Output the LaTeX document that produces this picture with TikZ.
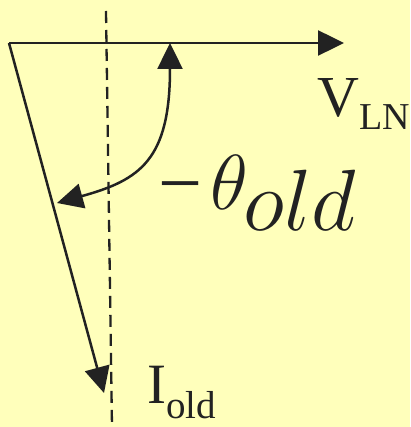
\documentclass[tikz,border=0pt]{standalone}
\usepackage{fix-cm}
\usepackage{fontspec}
\setmainfont{Liberation Serif}
\usetikzlibrary{arrows.meta}
\definecolor{bgyellow}{HTML}{FFFFBB}
\definecolor{ink}{HTML}{222222}

\begin{document}
\begin{tikzpicture}[x=1pt, y=-1pt,
        vec/.style={draw=ink, line width=2.5pt, -{Triangle[length=26pt, width=25pt]}},
        angle/.style={vec, {Triangle[length=26pt, width=25pt]}-{Triangle[length=26pt, width=25pt]}},
        guide/.style={draw=ink, line width=2.3pt, dash pattern=on 12pt off 7pt},
        lbl/.style={anchor=base west, inner sep=0pt, text=ink}
    ]
        \fill[bgyellow] (0,0) rectangle (410,427);
        \useasboundingbox (0,0) rectangle (410,427);

        \coordinate (o) at (9, 43);
        \coordinate (vtip) at (344, 43);
        \coordinate (itip) at (104, 393);
        \coordinate (top) at (106, 11);
        \coordinate (bot) at (112, 427);
        \coordinate (a) at (170, 43);
        \coordinate (b) at (57, 203);

        \draw[guide] (top) -- (bot);
        \draw[vec] (o) -- (vtip);
        \draw[vec] (o) -- (itip);
        \draw[angle] (a) .. controls (170, 160) and (140, 180) .. (b);

        \node[lbl, font=\fontsize{58}{58}\selectfont] (vln) at (317, 117)
            {V\raisebox{-13pt}{\fontsize{38}{38}\selectfont LN}};
        \node[lbl, font=\fontsize{57}{57}\selectfont] (iold) at (147, 403)
            {I\raisebox{-15pt}{\fontsize{39}{39}\selectfont old}};
        \node[lbl, font=\fontsize{78}{78}\selectfont] (theta) at (158, 209)
            {−\kern8pt$\theta$\kern-4pt\raisebox{-21pt}{\fontsize{87}{87}\selectfont$old$}};
    \end{tikzpicture}
\end{document}
